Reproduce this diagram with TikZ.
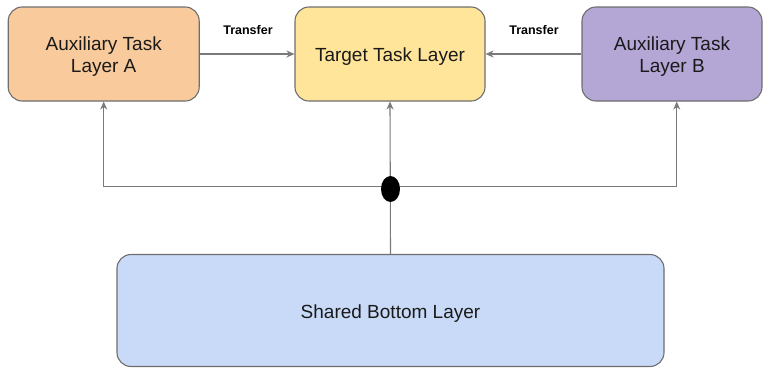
\documentclass[tikz,border=0pt]{standalone}
\usepackage{fontspec}
\setmainfont{Liberation Sans}
\usetikzlibrary{arrows.meta,shapes.geometric}
\definecolor{fillA}{HTML}{F9CB9C}
\definecolor{fillT}{HTML}{FFE599}
\definecolor{fillB}{HTML}{B4A7D6}
\definecolor{fillS}{HTML}{C9DAF8}
\definecolor{edgecol}{HTML}{6E6E6E}
\definecolor{linecol}{HTML}{7A7A7A}
\definecolor{textcol}{HTML}{1A1A1A}
\tikzset{
  layerbox/.style={draw=edgecol, line width=1.1pt, rounded corners=14pt, inner sep=0pt},
  layertext/.style={align=center, text=textcol, font=\fontsize{19}{22}\selectfont, inner sep=0pt},
  conn/.style={draw=linecol, line width=1.1pt},
  tip/.style={-{Stealth[length=8pt,width=7pt,inset=2.5pt]}},
  xferlabel/.style={font=\bfseries\fontsize{12.5}{14}\selectfont, text=black, inner sep=0pt},
}
\begin{document}
\begin{tikzpicture}[x=1pt,y=-1pt]
\useasboundingbox (0,0) rectangle (764,368);
\node[layerbox, fill=fillA, minimum width=191pt, minimum height=94pt] (A) at (103.7,54) {};
\node[layerbox, fill=fillT, minimum width=190pt, minimum height=94pt] (T) at (390,54) {};
\node[layerbox, fill=fillB, minimum width=180pt, minimum height=94pt] (B) at (672,54) {};
\node[layerbox, fill=fillS, minimum width=547pt, minimum height=112pt] (S) at (390.5,310.5) {};
\node[layertext] (At) at ([yshift=-3pt]A.center) {Auxiliary Task\\Layer A};
\node[layertext] (Tt) at ([yshift=-3pt]T.center) {Target Task Layer};
\node[layertext] (Bt) at ([yshift=-3pt]B.center) {Auxiliary Task\\Layer B};
\node[layertext] (St) at ([yshift=-3pt]S.center) {Shared Bottom Layer};
\coordinate (j) at (390.5,186.5);
\draw[conn, tip] (A.east) -- (T.west);
\draw[conn, tip] (B.west) -- (T.east);
\node[xferlabel] (l1) at (248,30.5) {Transfer};
\node[xferlabel] (l2) at (534,30.5) {Transfer};
\draw[conn, tip] (S.north) -- (T.south);
\draw[conn, tip] (j) -| (A.south);
\draw[conn, tip] (j) -| (B.south -| 676.7,0);
\node[ellipse, fill=black, minimum width=19pt, minimum height=26pt, inner sep=0pt] (dot) at (390.5,189) {};
\end{tikzpicture}
\end{document}
